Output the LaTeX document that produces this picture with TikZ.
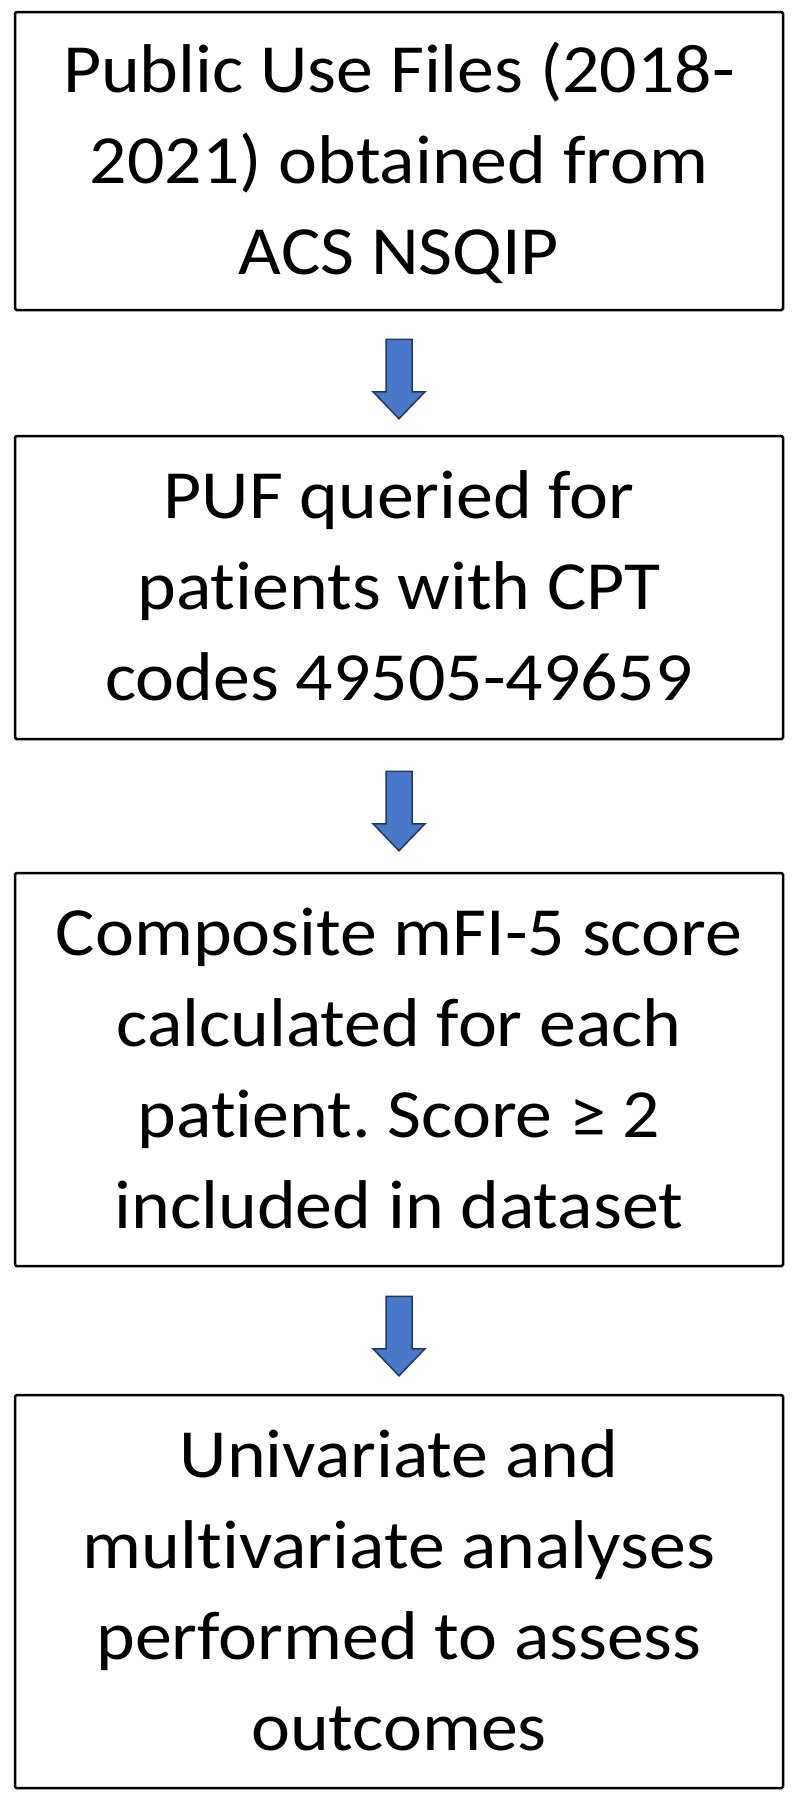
\documentclass[tikz,border=0pt]{standalone}
\usepackage{fontspec}
\setmainfont{Carlito}[Ligatures={NoCommon,NoContextual}, FakeStretch=1.07]
\usetikzlibrary{calc}
\definecolor{arrfill}{HTML}{4A78C8}
\definecolor{arrline}{HTML}{1F3864}
\newcommand\lstrut{\rule[-22pt]{0pt}{88pt}}
\tikzset{
  flowbox/.style={draw=black, line width=2.5pt, rounded corners=1.5pt,
    minimum width=768pt, inner sep=0pt, align=center,
    font=\fontsize{69pt}{91pt}\selectfont},
  blockarrow/.style={fill=arrfill, draw=arrline, line width=1.5pt, line join=miter}
}
\newcommand\blkarrow[2]{%
  \filldraw[blockarrow] ($(#1)+(-13pt,0)$) -- ($(#1)+(13pt,0)$) --
    ($(#2)+(13pt,27pt)$) -- ($(#2)+(26pt,27pt)$) -- (#2) --
    ($(#2)+(-26pt,27pt)$) -- ($(#2)+(-13pt,27pt)$) -- cycle;}
\frenchspacing
\begin{document}
\begin{tikzpicture}
\useasboundingbox (0,0) rectangle (800pt,-1800pt);
\fill[white] (0,0) rectangle (800pt,-1800pt);

\node[flowbox, minimum height=298pt] (b1) at (399pt,-161pt)
  {\lstrut Public Use Files (2018-\\\lstrut 2021) obtained from\\\lstrut ACS NSQIP};
\node[flowbox, minimum height=303pt] (b2) at (399pt,-587.5pt)
  {\lstrut PUF queried for\\\lstrut patients with CPT\\\lstrut codes 49505-49659};
\node[flowbox, minimum height=393pt] (b3) at (399pt,-1069.5pt)
  {\lstrut Composite mFI-5 score\\\lstrut calculated for each\\\lstrut patient. Score ≥ 2\\\lstrut included in dataset};
\node[flowbox, minimum height=393pt] (b4) at (399pt,-1591.5pt)
  {\lstrut Univariate and\\\lstrut multivariate analyses\\\lstrut performed to assess\\\lstrut outcomes};

\coordinate (a1s) at ($(b1.south)+(0,-28pt)$);
\coordinate (a1e) at ($(b2.north)+(0,16pt)$);
\coordinate (a2s) at ($(b2.south)+(0,-31pt)$);
\coordinate (a2e) at ($(b3.north)+(0,21pt)$);
\coordinate (a3s) at ($(b3.south)+(0,-29pt)$);
\coordinate (a3e) at ($(b4.north)+(0,18pt)$);
\blkarrow{a1s}{a1e}
\blkarrow{a2s}{a2e}
\blkarrow{a3s}{a3e}
\end{tikzpicture}
\end{document}
